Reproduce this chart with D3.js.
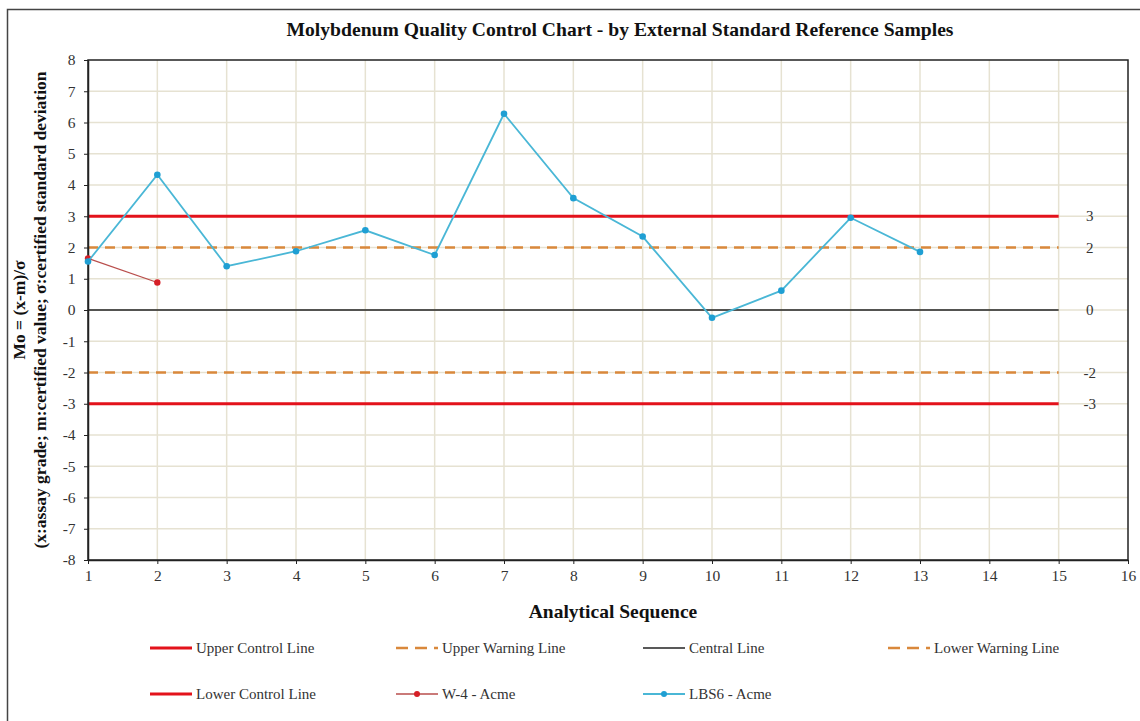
<!DOCTYPE html>
<html>
<head>
<meta charset="utf-8">
<script src="https://cdn.jsdelivr.net/npm/d3@7"></script>
<style>
  html, body { margin: 0; padding: 0; background: #fff; }
  svg { display: block; font-family: "Liberation Serif", "Times New Roman", serif; }
</style>
</head>
<body>
<script>
// Analytical sequence numbers and standardised scores (Mo = (x-m)/σ)
const lbs6Seq = [1, 2, 3, 4, 5, 6, 7, 8, 9, 10, 11, 12, 13];
const lbs6Values = [1.55, 4.33, 1.4, 1.88, 2.55, 1.76, 6.28, 3.58, 2.35, -0.25, 0.62, 2.95, 1.86];
const w4Seq = [1, 2];
const w4Values = [1.65, 0.88];

// Reference lines: control limits, warning limits and the central line
const refNames = ["Upper Control Line", "Upper Warning Line", "Central Line", "Lower Warning Line", "Lower Control Line"];
const refValues = [3, 2, 0, -2, -3];
const refLabels = ["3", "2", "0", "-2", "-3"];
const refStart = 1;
const refEnd = 15;

const xTicks = d3.range(1, 17);
const yTicks = d3.range(-8, 9);

const W = 1140, H = 721;
const margin = { left: 88, right: 12, top: 60, bottom: 161 };

const svg = d3.select("body").append("svg").attr("width", W).attr("height", H);

// outer chart frame
svg.append("rect")
  .attr("x", 7.5).attr("y", 9.5).attr("width", W + 10).attr("height", H + 10)
  .attr("fill", "none").attr("stroke", "#444").attr("stroke-width", 1.5);

const x = d3.scaleLinear().domain([1, 16]).range([margin.left, W - margin.right]);
const y = d3.scaleLinear().domain([-8, 8]).range([H - margin.bottom, margin.top]);

// gridlines
const grid = svg.append("g");
grid.selectAll("line.gx").data(xTicks.slice(1, -1)).join("line")
  .attr("x1", d => x(d)).attr("x2", d => x(d))
  .attr("y1", y(8)).attr("y2", y(-8))
  .attr("stroke", "#e6e2d2").attr("stroke-width", 1.5);
grid.selectAll("line.gy").data(yTicks.slice(1, -1)).join("line")
  .attr("x1", x(1)).attr("x2", x(16))
  .attr("y1", d => y(d)).attr("y2", d => y(d))
  .attr("stroke", "#e6e2d2").attr("stroke-width", 1.5);

// reference line styles
const refStyle = {
  "Upper Control Line": { color: "#e3121b", width: 3, dash: null },
  "Lower Control Line": { color: "#e3121b", width: 3, dash: null },
  "Upper Warning Line": { color: "#d9883b", width: 2.5, dash: "10,7" },
  "Lower Warning Line": { color: "#d9883b", width: 2.5, dash: "10,7" },
  "Central Line": { color: "#222", width: 1.5, dash: null }
};

const refData = refNames.map((n, i) => ({ name: n, value: refValues[i], label: refLabels[i] }));

svg.append("g").selectAll("line").data(refData).join("line")
  .attr("x1", x(refStart)).attr("x2", x(refEnd))
  .attr("y1", d => y(d.value)).attr("y2", d => y(d.value))
  .attr("stroke", d => refStyle[d.name].color)
  .attr("stroke-width", d => refStyle[d.name].width)
  .attr("stroke-dasharray", d => refStyle[d.name].dash);

svg.append("g").selectAll("text").data(refData).join("text")
  .attr("x", x(15.45)).attr("y", d => y(d.value) + 5)
  .attr("text-anchor", "middle")
  .attr("font-size", 15).attr("fill", "#333")
  .text(d => d.label);

// plot frame
svg.append("rect")
  .attr("x", x(1)).attr("y", y(8)).attr("width", x(16) - x(1)).attr("height", y(-8) - y(8))
  .attr("fill", "none").attr("stroke", "#222").attr("stroke-width", 1.5);

// axes
const fmt = d => String(d);
const xAxis = svg.append("g").attr("transform", `translate(0,${y(-8)})`)
  .call(d3.axisBottom(x).tickValues(xTicks).tickFormat(fmt).tickSize(4).tickSizeOuter(0));
const yAxis = svg.append("g").attr("transform", `translate(${x(1)},0)`)
  .call(d3.axisLeft(y).tickValues(yTicks).tickFormat(fmt).tickSize(4).tickSizeOuter(0));
[xAxis, yAxis].forEach(a => {
  a.select(".domain").attr("stroke", "#222").attr("stroke-width", 1.5);
  a.selectAll(".tick line").attr("stroke", "#222");
  a.selectAll(".tick text").attr("font-family", "Liberation Serif, serif").attr("font-size", 15.5).attr("fill", "#333");
});
xAxis.selectAll(".tick text").attr("dy", "0.9em");
yAxis.selectAll(".tick text").attr("dx", "-0.35em");

// data series
const w4Line = { color: "#b94e4c", marker: "#d61f26" };
const lbsLine = { color: "#4ab7d6", marker: "#1f9fd3" };

const line = d3.line().x(d => x(d[0])).y(d => y(d[1]));
const w4Data = w4Seq.map((s, i) => [s, w4Values[i]]);
const lbsData = lbs6Seq.map((s, i) => [s, lbs6Values[i]]);

svg.append("path").datum(w4Data).attr("d", line)
  .attr("fill", "none").attr("stroke", w4Line.color).attr("stroke-width", 1.3);
svg.append("g").selectAll("circle").data(w4Data).join("circle")
  .attr("cx", d => x(d[0])).attr("cy", d => y(d[1])).attr("r", 3.2)
  .attr("fill", w4Line.marker);

svg.append("path").datum(lbsData).attr("d", line)
  .attr("fill", "none").attr("stroke", lbsLine.color).attr("stroke-width", 1.8);
svg.append("g").selectAll("circle").data(lbsData).join("circle")
  .attr("cx", d => x(d[0])).attr("cy", d => y(d[1])).attr("r", 3.3)
  .attr("fill", lbsLine.marker);

// title
svg.append("text")
  .attr("x", 620).attr("y", 36).attr("text-anchor", "middle")
  .attr("font-weight", "bold").attr("font-size", 19.5).attr("fill", "#111")
  .attr("textLength", 667).attr("lengthAdjust", "spacingAndGlyphs")
  .text("Molybdenum Quality Control Chart - by External Standard Reference Samples");

// axis titles
svg.append("text")
  .attr("x", 613).attr("y", 618).attr("text-anchor", "middle")
  .attr("font-weight", "bold").attr("font-size", 19.5).attr("fill", "#111")
  .text("Analytical Sequence");

const yMid = (y(8) + y(-8)) / 2;
svg.append("text")
  .attr("transform", `translate(25,${yMid}) rotate(-90)`)
  .attr("text-anchor", "middle")
  .attr("font-weight", "bold").attr("font-size", 17.5).attr("fill", "#111")
  .text("Mo = (x-m)/σ");
svg.append("text")
  .attr("transform", `translate(46,${yMid}) rotate(-90)`)
  .attr("text-anchor", "middle")
  .attr("font-weight", "bold").attr("font-size", 17.5).attr("fill", "#111")
  .text("(x:assay grade; m:certified value; σ:certified standard deviation");

// legend
const legendItems = [
  { name: "Upper Control Line", col: 0, row: 0, type: "ref" },
  { name: "Upper Warning Line", col: 1, row: 0, type: "ref" },
  { name: "Central Line", col: 2, row: 0, type: "ref" },
  { name: "Lower Warning Line", col: 3, row: 0, type: "ref" },
  { name: "Lower Control Line", col: 0, row: 1, type: "ref" },
  { name: "W-4 - Acme", col: 1, row: 1, type: "w4" },
  { name: "LBS6 - Acme", col: 2, row: 1, type: "lbs" }
];
const colX = [150, 396, 643, 888];
const rowY = [648, 694];

const lg = svg.append("g").selectAll("g").data(legendItems).join("g")
  .attr("transform", d => `translate(${colX[d.col]},${rowY[d.row]})`);

lg.each(function (d) {
  const g = d3.select(this);
  if (d.type === "ref") {
    const s = refStyle[d.name];
    g.append("line").attr("x1", 0).attr("x2", 42).attr("y1", 0).attr("y2", 0)
      .attr("stroke", s.color).attr("stroke-width", s.width)
      .attr("stroke-dasharray", s.dash ? "12,7" : null);
  } else {
    const s = d.type === "w4" ? w4Line : lbsLine;
    g.append("line").attr("x1", 0).attr("x2", 42).attr("y1", 0).attr("y2", 0)
      .attr("stroke", s.color).attr("stroke-width", d.type === "w4" ? 1.3 : 1.8);
    g.append("circle").attr("cx", 21).attr("cy", 0).attr("r", 3).attr("fill", s.marker);
  }
  g.append("text").attr("x", 46).attr("y", 5)
    .attr("font-size", 15).attr("fill", "#333").text(d.name);
});
</script>
</body>
</html>
